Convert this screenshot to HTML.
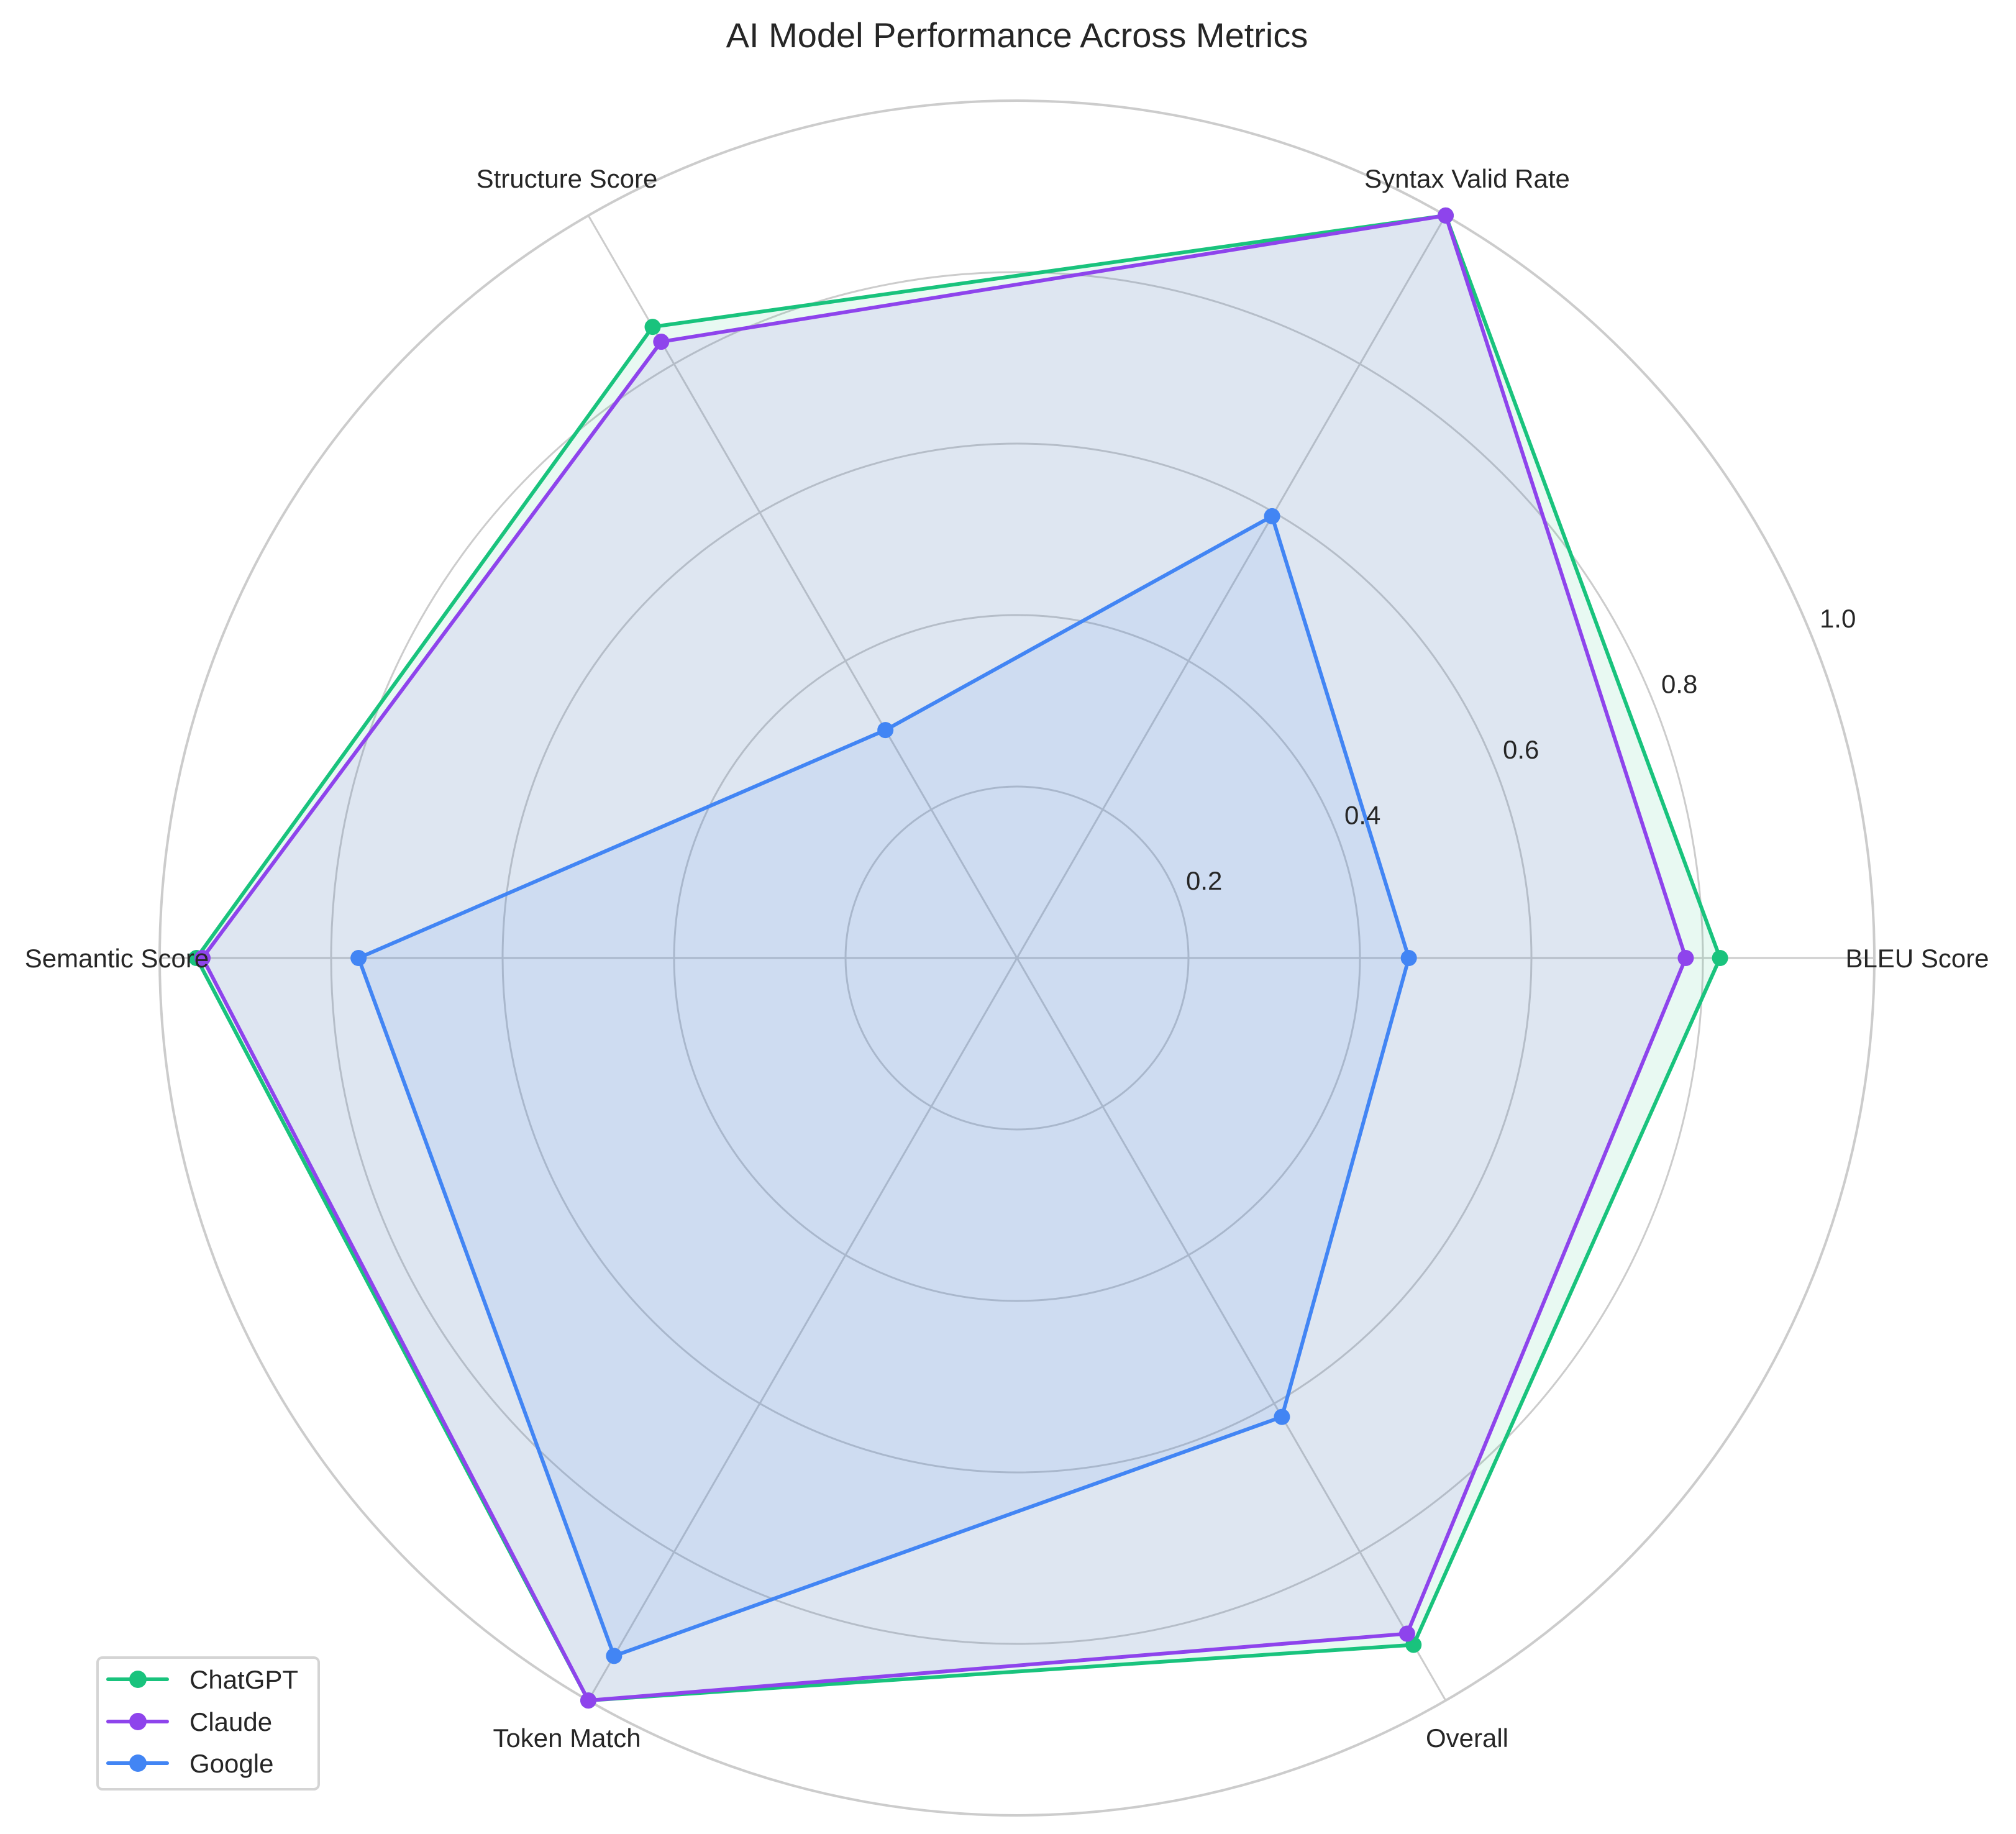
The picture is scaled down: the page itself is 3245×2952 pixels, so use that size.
<!DOCTYPE html>
<html><head><meta charset="utf-8"><style>
html,body{margin:0;padding:0;background:#fff;}
svg{display:block;font-family:"Liberation Sans","DejaVu Sans",sans-serif;}
</style></head><body>
<svg id="chart" width="3245" height="2952" viewBox="0 0 3245 2952" xmlns="http://www.w3.org/2000/svg">
<rect width="3245" height="2952" fill="#fff"/>
<text x="1637" y="76" font-size="56" text-anchor="middle" fill="#262626">AI Model Performance Across Metrics</text>
<g id="grid"></g>
<g id="series"></g>
<g id="labels"></g>
<g>
<rect x="157" y="2668" width="356" height="212" rx="8" fill="#fff" stroke="#d4d4d4" stroke-width="4"/>
<g><line x1="174" y1="2703" x2="269" y2="2703" stroke="#19c37d" stroke-width="6" stroke-linecap="round"/><circle cx="222" cy="2703" r="14" fill="#19c37d"/><text x="305" y="2718" font-size="42" fill="#262626">ChatGPT</text></g>
<g><line x1="174" y1="2771" x2="269" y2="2771" stroke="#8e44ec" stroke-width="6" stroke-linecap="round"/><circle cx="222" cy="2771" r="14" fill="#8e44ec"/><text x="305" y="2786" font-size="42" fill="#262626">Claude</text></g>
<g><line x1="174" y1="2838" x2="269" y2="2838" stroke="#4285f4" stroke-width="6" stroke-linecap="round"/><circle cx="222" cy="2838" r="14" fill="#4285f4"/><text x="305" y="2853" font-size="42" fill="#262626">Google</text></g>
</g>
</svg>
<script>
const categories = ["BLEU Score","Syntax Valid Rate","Structure Score","Semantic Score","Token Match","Overall"];
const chatgptValues = [0.82,1.0,0.85,0.957,1.0,0.925];
const claudeValues = [0.78,1.0,0.83,0.95,1.0,0.91];
const googleValues = [0.457,0.595,0.307,0.768,0.94,0.618];
const radialTicks = [0.2,0.4,0.6,0.8,1.0];
const tickLabels = ["0.2","0.4","0.6","0.8","1.0"];
const seriesNames = ["ChatGPT","Claude","Google"];

const NS="http://www.w3.org/2000/svg";
const CX=1637, CY=1542, R=1380;
function rScale(v){return v*R;}
function angle(i){return i*2*Math.PI/categories.length;}
function pt(i,v){const a=angle(i);return [CX+rScale(v)*Math.cos(a), CY-rScale(v)*Math.sin(a)];}
function mk(tag,attrs,parent){const e=document.createElementNS(NS,tag);for(const k in attrs)e.setAttribute(k,attrs[k]);parent.appendChild(e);return e;}

const grid=document.getElementById('grid');
radialTicks.forEach((t,k)=>{
  const c=mk('circle',{cx:CX,cy:CY,r:rScale(t),fill:'none',stroke:'#cccccc','stroke-width':k===radialTicks.length-1?4:3},grid);
  
  
});
categories.forEach((c,i)=>{
  const p=pt(i,1.0);
  const l=mk('line',{x1:CX,y1:CY,x2:p[0],y2:p[1],stroke:'#cccccc','stroke-width':3},grid);
  
  
});

const sg=document.getElementById('series');
const defs=[[chatgptValues,'#19c37d','chatgpt'],[claudeValues,'#8e44ec','claude'],[googleValues,'#4285f4','google']];
defs.forEach(([vals,col,name])=>{
  const pts=vals.map((v,i)=>pt(i,v));
  const poly=mk('polygon',{points:pts.map(p=>p.join(',')).join(' '),fill:col,'fill-opacity':0.1,stroke:'none'},sg);
  
  
});
defs.forEach(([vals,col,name])=>{
  const pts=vals.map((v,i)=>pt(i,v));
  const ln=mk('polygon',{points:pts.map(p=>p.join(',')).join(' '),fill:'none',stroke:col,'stroke-width':6,'stroke-linejoin':'round'},sg);
  
  
  pts.forEach((p,i)=>{
    const c=mk('circle',{cx:p[0],cy:p[1],r:13,fill:col},sg);
    
    
  });
});

const lg=document.getElementById('labels');
categories.forEach((c,i)=>{
  const p=pt(i,1.05);
  const t=mk('text',{x:p[0],y:p[1]+15,'font-size':42,'text-anchor':'middle',fill:'#262626'},lg);
  t.textContent=c;
  
  
});
radialTicks.forEach((v,k)=>{
  const a=22.5*Math.PI/180, r=rScale(v)+50;
  const t=mk('text',{x:CX+r*Math.cos(a),y:CY-r*Math.sin(a)+15,'font-size':42,'text-anchor':'middle',fill:'#262626'},lg);
  t.textContent=tickLabels[k];
  
  
});
</script>
</body></html>
